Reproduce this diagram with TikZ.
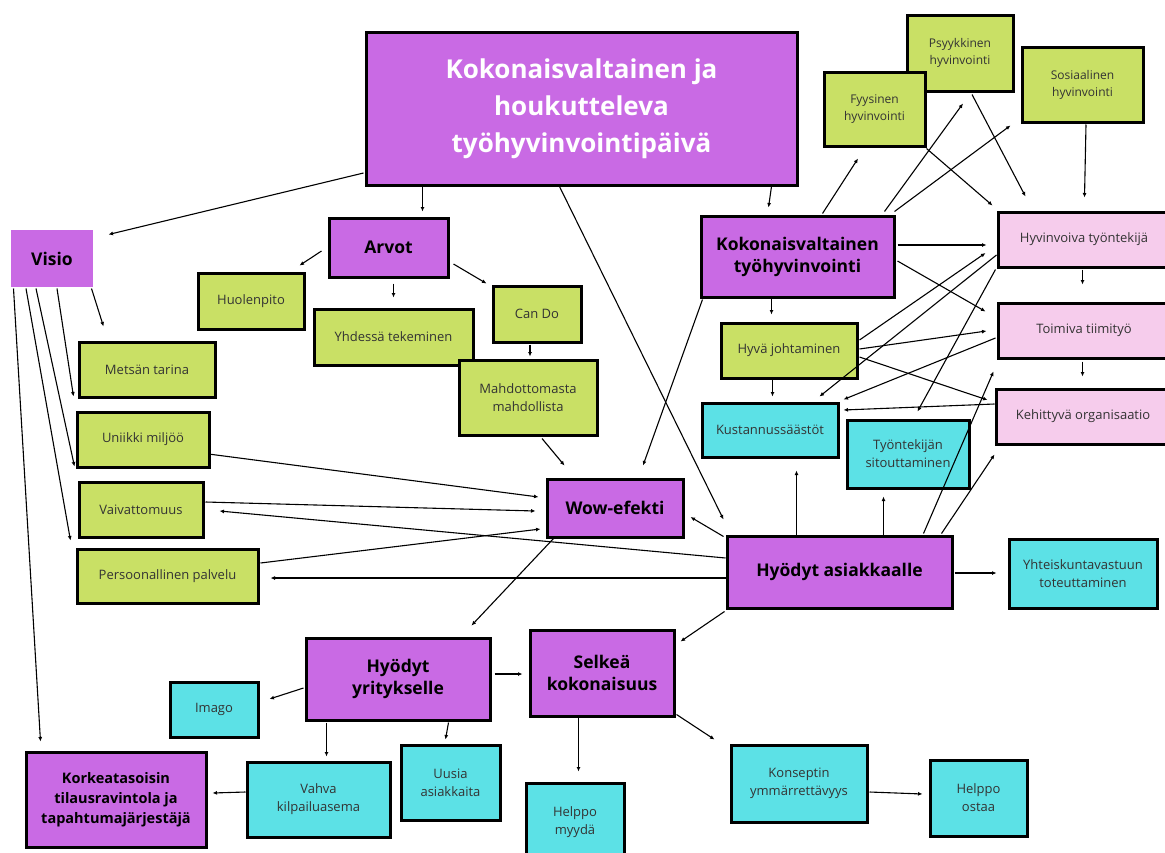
\documentclass[tikz,border=0pt]{standalone}
\usepackage{fontspec}
\setmainfont{Open Sans}
\usetikzlibrary{arrows.meta}
\definecolor{vpurple}{HTML}{C96AE4}
\definecolor{vgreen}{HTML}{C9E065}
\definecolor{vcyan}{HTML}{5CE1E6}
\definecolor{vpink}{HTML}{F6CCEC}
\begin{document}
\begin{tikzpicture}[x=1pt,y=-1pt,
  box node/.style={rectangle,draw=black,line width=3pt,inner sep=0pt,align=center},
  purple node/.style={box node,fill=vpurple,font=\fontsize{17.5}{22}\selectfont\bfseries},
  green node/.style={box node,fill=vgreen,text=black!80,font=\fontsize{13}{18}\selectfont},
  cyan node/.style={box node,fill=vcyan,text=black!80,font=\fontsize{13}{18}\selectfont},
  pink node/.style={box node,fill=vpink,text=black!80,font=\fontsize{13}{18}\selectfont},
  small text/.style={font=\fontsize{12}{17}\selectfont}]

  \useasboundingbox[fill=white] (0,0) rectangle (1165,852);

  \node[purple node,text=white,font=\fontsize{26}{37}\selectfont\bfseries,
    minimum width=431,minimum height=153] (1) at (581.5,108.5)
    {Kokonaisvaltainen ja\\houkutteleva\\työhyvinvointipäivä};
  \node[purple node,draw=none,minimum width=82,minimum height=57] (2) at (52,258.5) {Visio};
  \node[purple node,minimum width=119,minimum height=59] (3) at (388.5,247.5) {Arvot};
  \node[green node,minimum width=106,minimum height=56] (4) at (251,301) {Huolenpito};
  \node[green node,minimum width=159,minimum height=56] (5) at (393.5,337) {Yhdessä tekeminen};
  \node[green node,minimum width=88,minimum height=56] (6) at (537,314) {Can Do};
  \node[green node,minimum width=138,minimum height=75] (7) at (528,397.5) {Mahdottomasta\\mahdollista};
  \node[green node,minimum width=136,minimum height=55] (8) at (147,369.5) {Metsän tarina};
  \node[green node,minimum width=132,minimum height=55] (9) at (143,439.5) {Uniikki miljöö};
  \node[green node,minimum width=124,minimum height=55] (10) at (141,509.5) {Vaivattomuus};
  \node[green node,minimum width=181,minimum height=54] (11) at (167.5,576) {Persoonallinen palvelu};
  \node[purple node,minimum width=136,minimum height=58] (12) at (615,508) {Wow-efekti};
  \node[purple node,minimum width=193,minimum height=81] (13) at (797.5,256.5) {Kokonaisvaltainen\\työhyvinvointi};
  \node[green node,small text,minimum width=106,minimum height=76] (15) at (960,53) {Psyykkinen\\hyvinvointi};
  \node[green node,small text,minimum width=101,minimum height=74] (14) at (874.5,109) {Fyysinen\\hyvinvointi};
  \node[green node,small text,minimum width=121,minimum height=75] (16) at (1082.5,84.5) {Sosiaalinen\\hyvinvointi};
  \node[pink node,minimum width=172,minimum height=55] (17) at (1084,239.5) {Hyvinvoiva työntekijä};
  \node[pink node,minimum width=172,minimum height=55] (18) at (1084,330.5) {Toimiva tiimityö};
  \node[pink node,minimum width=174,minimum height=55] (19) at (1083,416.5) {Kehittyvä organisaatio};
  \node[green node,minimum width=136,minimum height=55] (20) at (789,350.5) {Hyvä johtaminen};
  \node[cyan node,minimum width=136,minimum height=54] (21) at (770,430) {Kustannussäästöt};
  \node[cyan node,minimum width=122,minimum height=68] (22) at (908,454) {Työntekijän\\sitouttaminen};
  \node[purple node,minimum width=225,minimum height=72] (23) at (839.5,572) {Hyödyt asiakkaalle};
  \node[cyan node,minimum width=148,minimum height=69] (24) at (1083,573.5) {Yhteiskuntavastuun\\toteuttaminen};
  \node[purple node,minimum width=184,minimum height=82] (25) at (398,679) {Hyödyt\\yritykselle};
  \node[cyan node,minimum width=88,minimum height=55] (26) at (214,709.5) {Imago};
  \node[purple node,font=\fontsize{14.5}{20}\selectfont\bfseries,
    minimum width=180,minimum height=95] (27) at (116,799.5)
    {Korkeatasoisin\\tilausravintola ja\\tapahtumajärjestäjä};
  \node[cyan node,minimum width=143,minimum height=75] (28) at (318.5,799.5) {Vahva\\kilpailuasema};
  \node[cyan node,minimum width=99,minimum height=75] (29) at (450.5,782.5) {Uusia\\asiakkaita};
  \node[purple node,minimum width=144,minimum height=86] (30) at (602,673) {Selkeä\\kokonaisuus};
  \node[cyan node,minimum width=98,minimum height=78] (31) at (575,822) {Helppo\\myydä};
  \node[cyan node,minimum width=136,minimum height=77] (32) at (799,783.5) {Konseptin\\ymmärrettävyys};
  \node[cyan node,minimum width=97,minimum height=76] (33) at (978.5,798) {Helppo\\ostaa};

  \path[line width=1.1pt,-{Latex[length=4.5pt,width=4pt]}]
   % main picture
   ([xshift=-1,yshift=-64.5]1.west) edge ([xshift=14,yshift=-6]2.north east)
   ([xshift=58]1.south west) edge ([xshift=95,yshift=5]3.north west)
   ([xshift=-27]1.south east) edge ([xshift=69,yshift=7]13.north west)
   ([xshift=195]1.south west) edge ([xshift=-2,yshift=15]23.north west)
   % values
   ([xshift=-6,yshift=-3.5]3.west) edge ([xshift=-6,yshift=6]4.north east)
   ([xshift=5,yshift=-5]3.south) edge ([yshift=10]5.north)
   ([xshift=4,yshift=-16.5]3.east) edge ([xshift=-5,yshift=1]6.north west)
   ([xshift=-7,yshift=-1]6.south) edge ([xshift=2,yshift=2]7.north)
   ([xshift=14,yshift=-2]7.south) edge ([xshift=19,yshift=12]12.north west)
   % vision
   ([xshift=-3]2.south east) edge ([xshift=26,yshift=14]8.north west)
   ([xshift=5]2.south) edge ([xshift=-2,yshift=14]9.north west)
   ([xshift=-16]2.south) edge ([xshift=-3,yshift=14]10.north west)
   ([xshift=-26]2.south) edge ([xshift=-5,yshift=7]11.north west)
   ([xshift=4]2.south west) edge ([xshift=16,yshift=9]27.north west)
   % wow
   ([xshift=-2,yshift=-14.5]9.east) edge ([xshift=-7,yshift=11]12.west)
   ([xshift=1,yshift=7.5]10.east) edge ([xshift=-10,yshift=-3]12.west)
   ([xshift=1,yshift=13]11.east) edge ([xshift=-5,yshift=-21]12.west)
   ([xshift=3,yshift=-1]13.south west) edge ([xshift=28,yshift=12]12.north)
   ([xshift=8]12.south west) edge ([xshift=-20,yshift=11]25.north east)
   % customer
   ([xshift=-2,yshift=-2]23.north west) edge ([xshift=6,yshift=-9]12.east)
   ([yshift=14]23.west) edge ([xshift=15,yshift=-1.5]10.east)
   ([yshift=-6]23.west) edge ([xshift=11,yshift=-2]11.east)
   ([xshift=-1,yshift=-2]23.south west) edge ([xshift=5,yshift=-13]30.north east)
   ([xshift=71]23.north west) edge ([xshift=96,yshift=-12]21.south west)
   ([xshift=158]23.north west) edge ([xshift=38,yshift=-7]22.south west)
   ([xshift=-30,yshift=1]23.north east) edge ([xshift=-3,yshift=-12]18.south west)
   ([xshift=-12,yshift=1]23.north east) edge ([yshift=-9]19.south west)
   ([xshift=1,yshift=-1]23.east) edge ([xshift=-11,yshift=0.5]24.west)
   % company
   ([xshift=3,yshift=5]25.east) edge ([xshift=-6,yshift=-1]30.west)
   ([xshift=-1,yshift=-9]25.west) edge ([xshift=10,yshift=10.5]26.east)
   ([xshift=22,yshift=-1]25.south west) edge ([xshift=81,yshift=4]28.north west)
   ([xshift=-43,yshift=-1]25.south east) edge ([xshift=46,yshift=4]29.north west)
   ([yshift=7.5]28.west) edge ([xshift=5,yshift=6.5]27.east)
   ([xshift=50]30.south west) edge ([xshift=54,yshift=10]31.north west)
   ([xshift=1,yshift=3]30.south east) edge ([xshift=-15,yshift=4]32.north west)
   ([xshift=1,yshift=-8.5]32.east) edge ([xshift=-6,yshift=4]33.west)
   % wellbeing
   ([xshift=123,yshift=1]13.north west) edge ([xshift=-16.5,yshift=-11]14.south)
   ([xshift=-11,yshift=3]13.north east) edge ([xshift=3,yshift=-11]15.south)
   ([xshift=-1,yshift=3]13.north east) edge ([xshift=-10,yshift=-2]16.south west)
   ([yshift=-1]14.south east) edge ([xshift=-4,yshift=5]17.north west)
   ([xshift=12,yshift=-2]15.south) edge ([xshift=29,yshift=14]17.north west)
   ([xshift=3.5,yshift=-1]16.south) edge ([xshift=88,yshift=13]17.north west)
   ([xshift=2,yshift=11.5]13.east) edge ([xshift=-10,yshift=-5.5]17.west)
   ([xshift=2,yshift=-4.5]13.east) edge ([xshift=-11,yshift=-10]18.north west)
   ([xshift=72]13.south west) edge ([xshift=52,yshift=7]20.north west)
   ([xshift=86,yshift=-1]17.south west) edge ([xshift=86,yshift=17]18.north west)
   ([xshift=86,yshift=-2]18.south west) edge ([xshift=88,yshift=11]19.north west)
   ([xshift=1,yshift=10.5]20.east) edge ([xshift=-11,yshift=-13.5]17.west)
   ([yshift=-15.5]17.west) edge ([xshift=-20,yshift=5]21.north east)
   ([xshift=-1,yshift=-1]17.south west) edge ([xshift=72,yshift=7]22.north west)
   ([xshift=1,yshift=1.5]20.east) edge ([xshift=-10,yshift=-0.5]18.west)
   ([xshift=-1,yshift=-7.5]18.west) edge ([xshift=4,yshift=2]21.north east)
   ([xshift=1,yshift=-6.5]20.east) edge ([xshift=-7,yshift=16.5]19.west)
   ([yshift=12.5]19.west) edge ([xshift=4,yshift=20]21.east)
   ([xshift=53]20.south west) edge ([xshift=72,yshift=5]21.north west);
\end{tikzpicture}
\end{document}
